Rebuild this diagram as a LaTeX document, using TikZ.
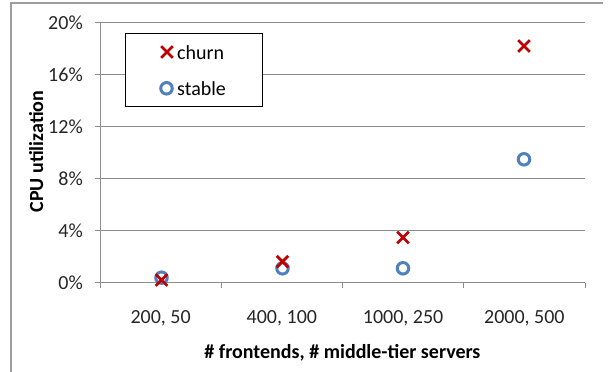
\documentclass[tikz,border=0pt]{standalone}
\usepackage{fontspec}
\setmainfont{Carlito}
\begin{document}
\begin{tikzpicture}[x=1pt,y=-1pt,
  grid/.style={draw=black!45,line width=0.9pt},
  frame/.style={draw=black!38,line width=1.8pt},
  ticklab/.style={font=\fontsize{20}{24}\selectfont,text=black!85,inner sep=0pt},
  axtitle/.style={font=\bfseries\fontsize{20}{24}\selectfont,inner sep=0pt},
  churnmark/.style={draw=red!75!black,line width=2.8pt},
  stablemark/.style={draw={rgb,255:red,79;green,129;blue,189},line width=3pt,circle,minimum size=11.5pt,inner sep=0pt}]
\useasboundingbox (0,0) rectangle (608,372);
\fill[white] (0,0) rectangle (608,372);
% outer chart frame
\draw[frame] (11,372) -- (11,3) -- (603,3);
% horizontal gridlines and y tick labels
\foreach \v/\lab in {0/0\%,4/4\%,8/8\%,12/12\%,16/16\%,20/20\%}{
  \pgfmathsetmacro{\yy}{282.5-13*\v}
  \draw[grid] (95,\yy) -- (585,\yy);
  \node[ticklab,anchor=base east] (yl\v) at (83,\yy+7) {\lab};
}
% axes
\draw[grid] (100,282.5) -- (100,22.5);
\foreach \i in {0,1,2,3,4}{
  \pgfmathsetmacro{\xx}{100+121.25*\i}
  \draw[grid] (\xx,282.5) -- (\xx,288);
}
% category labels
\foreach \i/\lab in {0/{200, 50},1/{400, 100},2/{1000, 250},3/{2000, 500}}{
  \pgfmathsetmacro{\xx}{160.6+121.25*\i}
  \node[ticklab,anchor=base] (xl\i) at (\xx,323) {\lab};
}
% axis titles
\node[axtitle,rotate=90,anchor=base] (ytitle) at (43,151.5) {CPU utilization};
\node[axtitle,anchor=base] (xtitle) at (342.5,358.5) {\# frontends, \# middle-tier servers};
% cross marker for the churn series
\newcommand{\churnat}[2]{\draw[churnmark] (#1-5.8,#2-5.8) -- (#1+5.8,#2+5.8) (#1-5.8,#2+5.8) -- (#1+5.8,#2-5.8);}
% stable series
\node[stablemark] (s1) at (161.5,277.7) {};
\node[stablemark] (s2) at (282.5,268.3) {};
\node[stablemark] (s3) at (403,268.3) {};
\node[stablemark] (s4) at (524,159.3) {};
% churn series
\churnat{161.5}{280}
\churnat{282.5}{261.7}
\churnat{403}{237.5}
\churnat{524}{46}
% legend
\draw[black,line width=0.8pt,fill=white] (125,33.5) rectangle (262,106);
\churnat{167}{52}
\node[font=\fontsize{20}{24}\selectfont,anchor=base west,inner sep=0pt] (lchurn) at (177,59) {churn};
\node[stablemark] (lstable) at (166.5,88.3) {};
\node[font=\fontsize{20}{24}\selectfont,anchor=base west,inner sep=0pt] (lstab) at (177,95.3) {stable};
\end{tikzpicture}
\end{document}
